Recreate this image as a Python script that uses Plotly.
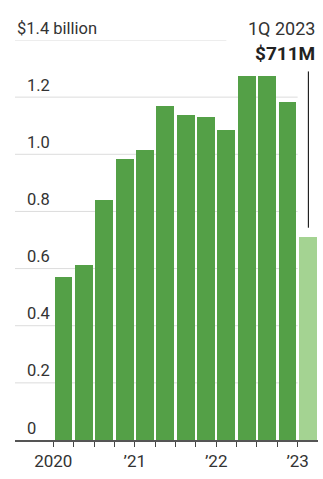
import plotly.graph_objects as go

# Quarterly values, $ billions (1Q 2020 .. 1Q 2023)
quarters = ["1Q 2020", "2Q 2020", "3Q 2020", "4Q 2020",
            "1Q 2021", "2Q 2021", "3Q 2021", "4Q 2021",
            "1Q 2022", "2Q 2022", "3Q 2022", "4Q 2022",
            "1Q 2023"]
values = [0.570, 0.612, 0.840, 0.984,
          1.016, 1.168, 1.138, 1.131,
          1.086, 1.273, 1.273, 1.182,
          0.711]

year_tick_pos = [0, 4, 8, 12]
year_tick_text = ["2020", "\u201921", "\u201922", "\u201923"]
y_grid = [0.2, 0.4, 0.6, 0.8, 1.0, 1.2, 1.4]
y_labels = ["0.2", "0.4", "0.6", "0.8", "1.0", "1.2", "$1.4 billion"]

DARK = "#54a047"
LIGHT = "#a4d392"
TEXT = "#333333"
GRID = "#dcdcdc"
FONT = "Roboto"

n = len(values)
xs = [i + 0.5 for i in range(n)]
colors = [DARK] * (n - 1) + [LIGHT]

fig = go.Figure()
fig.add_trace(go.Bar(x=xs, y=values, width=0.88, marker=dict(color=colors, line=dict(width=0)),
                     hoverinfo="skip"))

shapes = []
# horizontal gridlines behind the bars
for v in y_grid:
    x_end = 8.5 if v == max(y_grid) else n - 1
    shapes.append(dict(type="line", xref="x", yref="y", x0=-1.88, x1=x_end, y0=v, y1=v,
                       line=dict(color=GRID, width=1), layer="below"))
# callout leader line for the latest quarter
shapes.append(dict(type="line", xref="x", yref="y", x0=12.53, x1=12.53,
                   y0=values[-1] + 0.032, y1=1.29, line=dict(color="#222222", width=1.2)))

annotations = []
labels = [("0", 0.0)] + list(zip(y_labels, y_grid))
for txt, v in labels:
    xshift = 0 if txt.startswith("$") else 10
    annotations.append(dict(text=txt, xref="paper", yref="y", x=0, y=v, xanchor="left",
                            yanchor="middle", xshift=xshift, yshift=12, showarrow=False,
                            font=dict(family=FONT, size=16.5, color=TEXT)))

last_val = values[-1]
annotations.append(dict(text=quarters[-1], xref="paper", yref="paper", x=1, y=1, xanchor="right",
                        yanchor="middle", xshift=-1, yshift=12, showarrow=False,
                        font=dict(family=FONT, size=18, color=TEXT)))
annotations.append(dict(text="<b>$%dM</b>" % round(last_val * 1000), xref="paper", yref="paper",
                        x=1, y=1, xanchor="right", yanchor="middle", xshift=-1, yshift=-13,
                        showarrow=False, font=dict(family=FONT, size=19, color="#222222")))

fig.update_layout(
    width=323, height=479,
    margin=dict(l=15, r=4.5, t=40, b=39, pad=0),
    plot_bgcolor="white", paper_bgcolor="white",
    showlegend=False, bargap=0,
    shapes=shapes, annotations=annotations,
    xaxis=dict(range=[-1.88, 13.0], tickmode="array", tickvals=year_tick_pos,
               ticktext=year_tick_text, ticks="outside", ticklen=5, tickwidth=1.2,
               tickcolor="#444444", showline=True, linecolor="#555555", linewidth=1.5,
               showgrid=False, zeroline=False,
               tickfont=dict(family=FONT, size=17, color=TEXT),
               minor=dict(tickmode="array", tickvals=[1, 2, 3, 5, 6, 7, 9, 10, 11],
                          ticks="outside", ticklen=5, tickwidth=1.2, tickcolor="#444444",
                          showgrid=False)),
    yaxis=dict(range=[0, 1.4], showticklabels=False, showgrid=False, zeroline=False,
               ticks=""),
)

fig.write_html("out.html")
